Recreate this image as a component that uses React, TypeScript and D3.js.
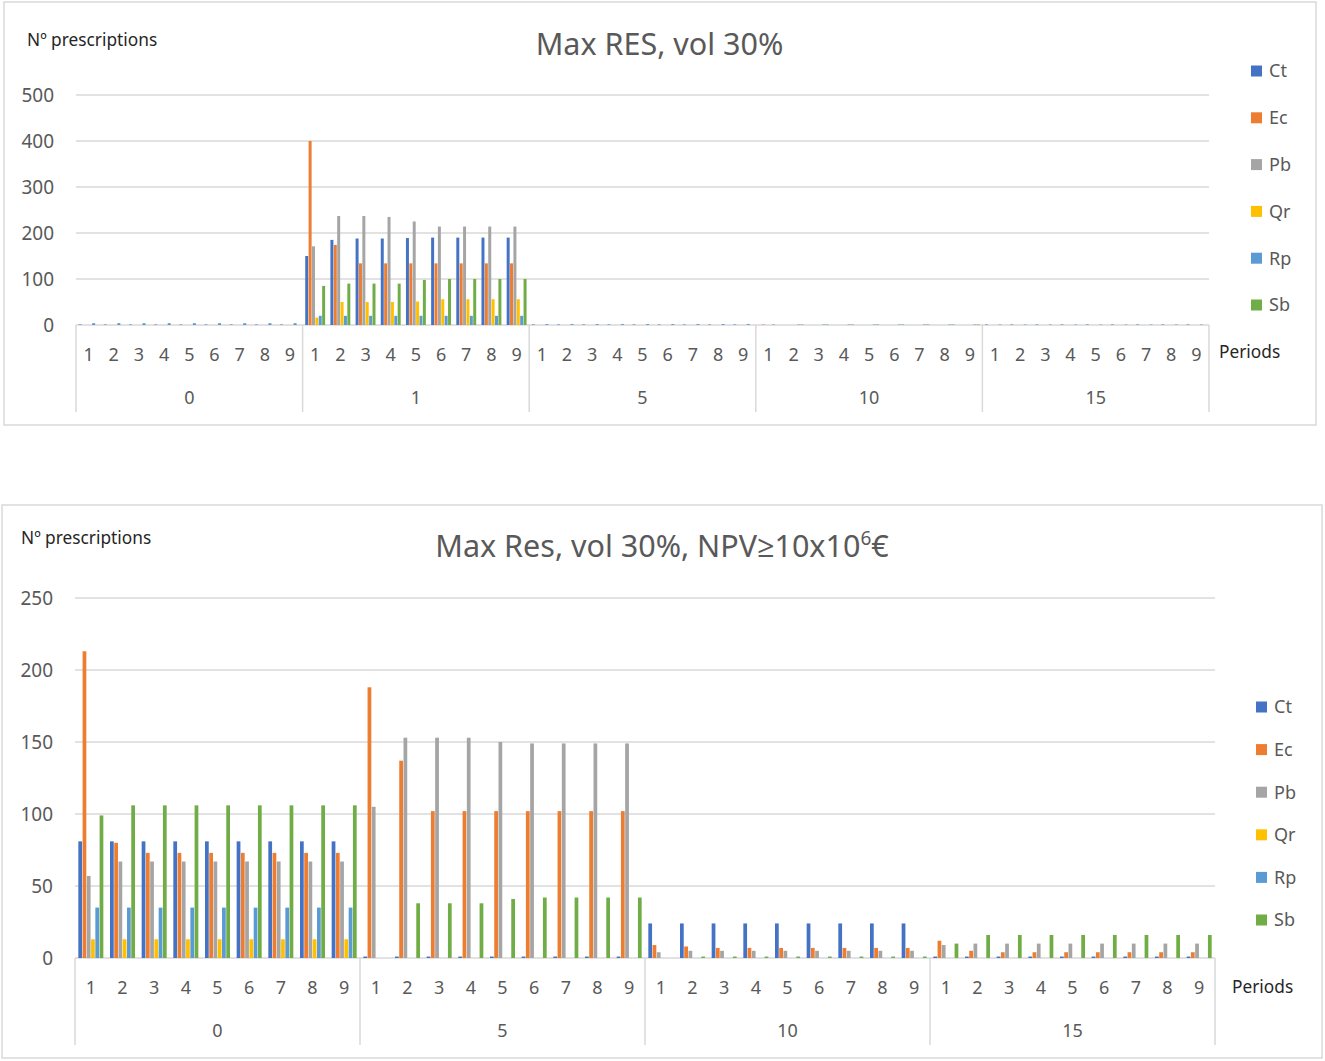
import * as d3 from "d3";
import type { ReactNode } from "react";

// Séries et couleurs communes aux deux graphiques
const seriesNames = ["Ct", "Ec", "Pb", "Qr", "Rp", "Sb"];
const seriesColors = ["#4472C4", "#ED7D31", "#A5A5A5", "#FFC000", "#5B9BD5", "#70AD47"];
const periods = ["1", "2", "3", "4", "5", "6", "7", "8", "9"];

// Graphique du haut : Max RES, vol 30%
const topGroups = ["0", "1", "5", "10", "15"];
const topTicks = [0, 100, 200, 300, 400, 500];
const topCt = [
  1, 1, 1, 1, 1, 1, 1, 1, 1,
  150, 185, 188, 188, 189, 190, 190, 190, 190,
  1, 1, 1, 1, 1, 1, 1, 1, 1,
  0, 0, 0, 0, 0, 0, 0, 0, 0,
  1, 1, 1, 1, 1, 1, 1, 1, 1,
];
const topEc = [
  0, 0, 0, 0, 0, 0, 0, 0, 0,
  400, 174, 134, 134, 134, 134, 134, 134, 134,
  0, 0, 0, 0, 0, 0, 0, 0, 0,
  1, 0, 0, 0, 0, 0, 0, 0, 0,
  0, 0, 0, 0, 0, 0, 0, 0, 0,
];
const topPb = [
  0, 0, 0, 0, 0, 0, 0, 0, 0,
  171, 237, 237, 235, 225, 214, 214, 214, 214,
  0, 0, 0, 0, 0, 0, 0, 0, 0,
  0, 0, 0, 0, 0, 0, 0, 0, 0,
  0, 0, 0, 0, 0, 0, 0, 0, 0,
];
const topQr = [
  0, 0, 0, 0, 0, 0, 0, 0, 0,
  16, 50, 50, 50, 51, 56, 56, 56, 56,
  0, 0, 0, 0, 0, 0, 0, 0, 0,
  0, 0, 0, 0, 0, 0, 0, 0, 0,
  0, 0, 0, 0, 0, 0, 0, 0, 0,
];
const topRp = [
  4, 4, 4, 4, 4, 4, 4, 4, 4,
  20, 20, 20, 20, 20, 20, 20, 20, 20,
  2, 2, 2, 2, 2, 2, 2, 2, 2,
  1, 1, 1, 1, 1, 1, 1, 1, 1,
  1, 1, 1, 1, 1, 1, 1, 1, 1,
];
const topSb = [
  0, 0, 0, 0, 0, 0, 0, 0, 0,
  85, 90, 90, 90, 98, 100, 100, 100, 100,
  0, 0, 0, 0, 0, 0, 0, 0, 0,
  0, 1, 1, 1, 1, 1, 1, 1, 1,
  0, 0, 0, 0, 0, 0, 0, 0, 0,
];

// Graphique du bas : Max Res, vol 30%, NPV≥10x10⁶€
const botGroups = ["0", "5", "10", "15"];
const botTicks = [0, 50, 100, 150, 200, 250];
const botCt = [
  81, 81, 81, 81, 81, 81, 81, 81, 81,
  1, 1, 1, 1, 1, 1, 1, 1, 1,
  24, 24, 24, 24, 24, 24, 24, 24, 24,
  1, 1, 1, 1, 1, 1, 1, 1, 1,
];
const botEc = [
  213, 80, 73, 73, 73, 73, 73, 73, 73,
  188, 137, 102, 102, 102, 102, 102, 102, 102,
  9, 8, 7, 7, 7, 7, 7, 7, 7,
  12, 5, 4, 4, 4, 4, 4, 4, 4,
];
const botPb = [
  57, 67, 67, 67, 67, 67, 67, 67, 67,
  105, 153, 153, 153, 150, 149, 149, 149, 149,
  4, 5, 5, 5, 5, 5, 5, 5, 5,
  9, 10, 10, 10, 10, 10, 10, 10, 10,
];
const botQr = [
  13, 13, 13, 13, 13, 13, 13, 13, 13,
  0, 0, 0, 0, 0, 0, 0, 0, 0,
  0, 0, 0, 0, 0, 0, 0, 0, 0,
  0, 0, 0, 0, 0, 0, 0, 0, 0,
];
const botRp = [
  35, 35, 35, 35, 35, 35, 35, 35, 35,
  0, 0, 0, 0, 0, 0, 0, 0, 0,
  0, 0, 0, 0, 0, 0, 0, 0, 0,
  0, 0, 0, 0, 0, 0, 0, 0, 0,
];
const botSb = [
  99, 106, 106, 106, 106, 106, 106, 106, 106,
  0, 38, 38, 38, 41, 42, 42, 42, 42,
  0, 1, 1, 1, 1, 1, 1, 1, 1,
  10, 16, 16, 16, 16, 16, 16, 16, 16,
];

const FONT = "'Noto Sans', 'Open Sans', sans-serif";
const GRID = "#D9D9D9";
const LABEL = "#595959";

interface ChartProps {
  box: { x: number; y: number; w: number; h: number };
  plot: { left: number; right: number; top: number; bottom: number };
  groups: string[];
  ticks: number[];
  values: number[][];
  title: ReactNode;
  titleY: number;
  axisTitle: { x: number; y: number };
  periodsLabel: { x: number; y: number };
  legend: { x: number; y: number; step: number };
}

function GroupedBarChart({
  box,
  plot,
  groups,
  ticks,
  values,
  title,
  titleY,
  axisTitle,
  periodsLabel,
  legend,
}: ChartProps) {
  // Catégories à deux niveaux : groupe / période
  const categories = groups.flatMap((g) => periods.map((p) => `${g}|${p}`));

  const x0 = d3.scaleBand().domain(categories).range([plot.left, plot.right]);
  const bw = x0.bandwidth();
  const x1 = d3
    .scaleBand()
    .domain(seriesNames)
    .range([bw * 0.105, bw * 0.895])
    .paddingInner(0.12);
  const y = d3
    .scaleLinear()
    .domain([0, ticks[ticks.length - 1]])
    .range([plot.bottom, plot.top]);

  const groupWidth = bw * periods.length;
  const sepBottom = plot.bottom + 87;

  return (
    <g>
      <rect
        x={box.x}
        y={box.y}
        width={box.w}
        height={box.h}
        fill="white"
        stroke={GRID}
        strokeWidth={1.5}
      />
      <text
        x={(plot.left + plot.right) / 2 + 17}
        y={titleY}
        textAnchor="middle"
        fontSize={30.5}
        fill={LABEL}
        fontFamily={FONT}
      >
        {title}
      </text>
      <text x={axisTitle.x} y={axisTitle.y} fontSize={17.3} fill="#262626" fontFamily={FONT}>
        Nº prescriptions
      </text>

      {/* Grille et graduations Y */}
      {ticks.map((t) => (
        <g key={t}>
          <line x1={plot.left} x2={plot.right} y1={y(t)} y2={y(t)} stroke={GRID} strokeWidth={1.5} />
          <text
            x={plot.left - 22}
            y={y(t)}
            dy="0.36em"
            textAnchor="end"
            fontSize={19}
            fill={LABEL}
            fontFamily={FONT}
          >
            {t}
          </text>
        </g>
      ))}

      {/* Barres */}
      {seriesNames.map((s, si) => (
        <g key={s} fill={seriesColors[si]}>
          {categories.map((c, ci) => {
            const v = values[si][ci];
            if (!v) return null;
            return (
              <rect
                key={c}
                x={(x0(c) ?? 0) + (x1(s) ?? 0)}
                y={y(v)}
                width={x1.bandwidth()}
                height={y(0) - y(v)}
              />
            );
          })}
        </g>
      ))}

      {/* Axe X multi-niveaux */}
      {categories.map((c) => (
        <text
          key={c}
          x={(x0(c) ?? 0) + bw / 2}
          y={plot.bottom + 30}
          dy="0.36em"
          textAnchor="middle"
          fontSize={18}
          fill={LABEL}
          fontFamily={FONT}
        >
          {c.split("|")[1]}
        </text>
      ))}
      {groups.map((g, gi) => (
        <text
          key={g}
          x={plot.left + groupWidth * gi + groupWidth / 2}
          y={plot.bottom + 73}
          dy="0.36em"
          textAnchor="middle"
          fontSize={18}
          fill={LABEL}
          fontFamily={FONT}
        >
          {g}
        </text>
      ))}
      {d3.range(groups.length + 1).map((i) => (
        <line
          key={i}
          x1={plot.left + groupWidth * i}
          x2={plot.left + groupWidth * i}
          y1={plot.bottom}
          y2={sepBottom}
          stroke={GRID}
          strokeWidth={1.5}
        />
      ))}
      <text
        x={periodsLabel.x}
        y={periodsLabel.y}
        dy="0.36em"
        fontSize={17.3}
        fill="#262626"
        fontFamily={FONT}
      >
        Periods
      </text>

      {/* Légende */}
      {seriesNames.map((s, si) => (
        <g key={s} transform={`translate(${legend.x},${legend.y + legend.step * si})`}>
          <rect x={0} y={-5.5} width={11} height={11} fill={seriesColors[si]} />
          <text x={18} y={0} dy="0.36em" fontSize={18} fill={LABEL} fontFamily={FONT}>
            {s}
          </text>
        </g>
      ))}
    </g>
  );
}

export default function App() {
  return (
    <svg
      width={1325}
      height={1061}
      style={{ position: "absolute", left: 0, top: 0, background: "white" }}
    >
      <GroupedBarChart
        box={{ x: 4, y: 2, w: 1312, h: 423 }}
        plot={{ left: 76, right: 1209, top: 95, bottom: 325 }}
        groups={topGroups}
        ticks={topTicks}
        values={[topCt, topEc, topPb, topQr, topRp, topSb]}
        title="Max RES, vol 30%"
        titleY={55}
        axisTitle={{ x: 27, y: 46 }}
        periodsLabel={{ x: 1219, y: 352 }}
        legend={{ x: 1251, y: 71, step: 46.8 }}
      />
      <GroupedBarChart
        box={{ x: 2, y: 505, w: 1320, h: 553 }}
        plot={{ left: 75, right: 1215, top: 598, bottom: 958 }}
        groups={botGroups}
        ticks={botTicks}
        values={[botCt, botEc, botPb, botQr, botRp, botSb]}
        title={
          <>
            Max Res, vol 30%, NPV≥10x10
            <tspan fontSize={19} dy={-12}>
              6
            </tspan>
            <tspan dy={12}>€</tspan>
          </>
        }
        titleY={557}
        axisTitle={{ x: 21, y: 544 }}
        periodsLabel={{ x: 1232, y: 987 }}
        legend={{ x: 1256, y: 707, step: 42.6 }}
      />
    </svg>
  );
}
